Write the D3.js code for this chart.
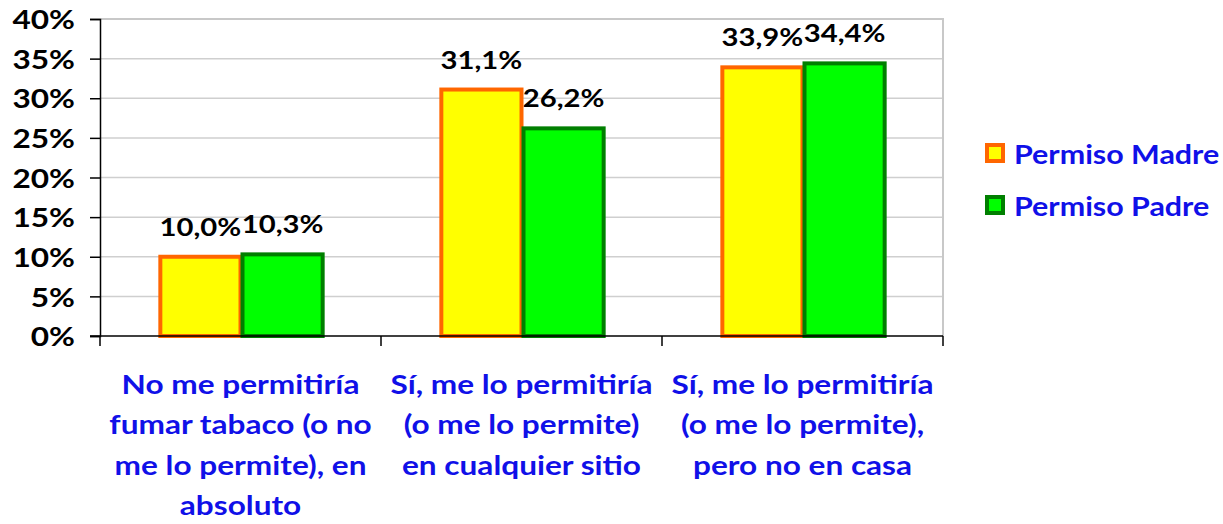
<!DOCTYPE html>
<html>
<head>
<meta charset="utf-8">
<script src="https://cdn.jsdelivr.net/npm/d3@7"></script>
<style>
  body { margin: 0; background: #fff; }
  text { font-family: Lato, "Open Sans", sans-serif; font-weight: bold; }
</style>
</head>
<body>
<svg width="1223" height="524"></svg>
<script>
// datos
const categories = [
  ["No me permitiría", "fumar tabaco (o no", "me lo permite), en", "absoluto"],
  ["Sí, me lo permitiría", "(o me lo permite)", "en cualquier sitio"],
  ["Sí, me lo permitiría", "(o me lo permite),", "pero no en casa"]
];
const seriesNames = ["Permiso Madre", "Permiso Padre"];
const madre = [10.0, 31.1, 33.9];
const padre = [10.3, 26.2, 34.4];
const yTicks = [0, 5, 10, 15, 20, 25, 30, 35, 40];

const fills = ["#ffff00", "#00ff00"];
const strokes = ["#ff6600", "#007f00"];
const SX = 1.17; // la fuente original es más ancha

const svg = d3.select("svg");
const margin = {left: 100, top: 19, right: 280, bottom: 188};
const width = +svg.attr("width"), height = +svg.attr("height");

// texto ensanchado: mueve x,y al transform y escala en horizontal
function stretch(sel) {
  sel.each(function() {
    const t = d3.select(this);
    const tx = +t.attr("x") || 0, ty = +t.attr("y") || 0;
    t.attr("x", 0).attr("y", 0)
      .attr("transform", `translate(${tx},${ty}) scale(${SX},1)`);
  });
}

const x = d3.scaleBand()
  .domain(d3.range(categories.length))
  .range([margin.left, width - margin.right]);

const xs = d3.scaleBand()
  .domain(d3.range(seriesNames.length))
  .range([0, x.bandwidth()])
  .paddingOuter(0.71);

const y = d3.scaleLinear()
  .domain([0, 40])
  .range([height - margin.bottom, margin.top]);

// rejilla
svg.append("g")
  .selectAll("line")
  .data(yTicks.slice(1))
  .enter().append("line")
  .attr("x1", margin.left)
  .attr("x2", width - margin.right)
  .attr("y1", d => y(d))
  .attr("y2", d => y(d))
  .attr("stroke", "#cfcfcf")
  .attr("stroke-width", 1.5);

// borde del área
svg.append("path")
  .attr("d", `M${margin.left},${y(40)}H${width - margin.right}V${y(0)}`)
  .attr("fill", "none")
  .attr("stroke", "#c8c8c8")
  .attr("stroke-width", 2);

// barras
const rows = categories.map((c, i) => [madre[i], padre[i]]);
const g = svg.append("g")
  .selectAll("g")
  .data(rows)
  .enter().append("g")
  .attr("transform", (d, i) => `translate(${x(i)},0)`);

g.selectAll("rect")
  .data(d => d)
  .enter().append("rect")
  .attr("x", (d, j) => xs(j) + 2)
  .attr("width", xs.bandwidth() - 2)
  .attr("y", d => y(d))
  .attr("height", d => y(0) - y(d))
  .attr("fill", (d, j) => fills[j])
  .attr("stroke", (d, j) => strokes[j])
  .attr("stroke-width", 4);

g.selectAll("text")
  .data(d => d)
  .enter().append("text")
  .attr("x", (d, j) => xs(j) + xs.bandwidth() / 2 + 1)
  .attr("y", d => y(d) - 21)
  .attr("text-anchor", "middle")
  .attr("font-size", 25)
  .attr("fill", "#000")
  .text(d => d.toFixed(1).replace(".", ",") + "%")
  .call(stretch);

// eje y
const yAxis = svg.append("g")
  .attr("transform", `translate(${margin.left},0)`)
  .call(d3.axisLeft(y).tickValues(yTicks).tickSize(10).tickFormat(d => d + "%"));
yAxis.selectAll("text")
  .attr("font-size", 27)
  .attr("fill", "#000")
  .attr("dy", "0.36em")
  .attr("x", 0)
  .attr("transform", `translate(-25,0) scale(${SX},1)`);
yAxis.select(".domain").attr("stroke", "#000").attr("stroke-width", 1.5);
yAxis.selectAll(".tick line").attr("stroke", "#000").attr("stroke-width", 1.5);

// eje x
const xAxis = svg.append("g")
  .attr("transform", `translate(0,${y(0)})`);
xAxis.append("line")
  .attr("x1", margin.left - 10)
  .attr("x2", width - margin.right)
  .attr("stroke", "#000")
  .attr("stroke-width", 1.5);
xAxis.selectAll(".xt")
  .data(d3.range(categories.length + 1))
  .enter().append("line")
  .attr("x1", i => margin.left + i * x.step())
  .attr("x2", i => margin.left + i * x.step())
  .attr("y1", 0)
  .attr("y2", 10)
  .attr("stroke", "#000")
  .attr("stroke-width", 1.5);

const labels = svg.append("g")
  .selectAll("text")
  .data(categories)
  .enter().append("text")
  .attr("x", (d, i) => x(i) + x.bandwidth() / 2)
  .attr("y", 394)
  .attr("text-anchor", "middle")
  .attr("font-size", 27)
  .attr("fill", "#1010e8")
  .call(stretch);

labels.selectAll("tspan")
  .data(d => d)
  .enter().append("tspan")
  .attr("x", 0)
  .attr("dy", (d, k) => k ? 40.5 : 0)
  .text(d => d);

// leyenda
const legend = svg.append("g")
  .selectAll("g")
  .data(seriesNames)
  .enter().append("g")
  .attr("transform", (d, i) => `translate(985,${143 + i * 52})`);

legend.append("rect")
  .attr("x", 2).attr("y", 2)
  .attr("width", 16).attr("height", 16)
  .attr("fill", (d, i) => fills[i])
  .attr("stroke", (d, i) => strokes[i])
  .attr("stroke-width", 4);

legend.append("text")
  .attr("x", 29)
  .attr("y", 21)
  .attr("font-size", 26)
  .attr("fill", "#1010e8")
  .text(d => d)
  .call(stretch);
</script>
</body>
</html>
